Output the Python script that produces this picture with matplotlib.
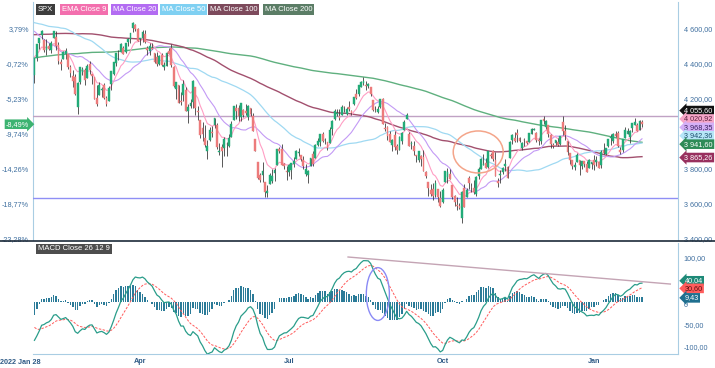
import numpy as np
import pandas as pd
import matplotlib
matplotlib.use('Agg')
import matplotlib.pyplot as plt
from matplotlib.patches import Ellipse
from matplotlib.lines import Line2D
from matplotlib.transforms import blended_transform_factory

plt.rcParams['font.family'] = ['Liberation Sans', 'DejaVu Sans']

# ── closes before the first visible candle (2021-04-16 .. 2022-01-27), only used to warm up MAs / MACD
pre_close = [
    4185.47, 4163.26, 4134.94, 4173.42, 4134.98, 4180.17, 4187.62, 4186.72, 4183.18, 4211.47, 4181.17,
    4192.66, 4164.66, 4167.59, 4201.62, 4232.60, 4188.43, 4152.10, 4063.04, 4112.50, 4173.85,
    4163.29, 4127.83, 4115.68, 4159.12, 4155.86, 4197.05, 4188.13, 4195.99, 4200.88, 4204.11,
    4202.04, 4208.12, 4192.85, 4229.89, 4226.52, 4227.26, 4219.55, 4239.18, 4247.44, 4255.15,
    4246.59, 4223.70, 4221.86, 4166.45, 4224.79, 4246.44, 4241.84, 4266.49, 4280.70, 4290.61, 4291.80, 4297.50,
    4319.94, 4352.34, 4343.54, 4358.13, 4320.82, 4369.55, 4384.63, 4369.21, 4374.30, 4360.03, 4327.16,
    4258.49, 4323.06, 4358.69, 4367.48, 4411.79, 4422.30, 4401.46, 4400.64, 4419.15, 4395.26,
    4387.16, 4423.15, 4402.66, 4429.10, 4436.52, 4432.35, 4436.75, 4447.70, 4460.83, 4468.00,
    4479.71, 4448.08, 4400.27, 4405.80, 4441.67, 4479.53, 4486.23, 4496.19, 4470.00, 4509.37, 4528.79, 4522.68,
    4524.09, 4536.95, 4535.43, 4520.03, 4514.07, 4493.28, 4458.58, 4468.73, 4443.05, 4480.70, 4473.75, 4432.99,
    4357.73, 4354.19, 4395.64, 4448.98, 4455.48, 4443.11, 4352.63, 4359.46, 4307.54,
    4357.04, 4300.46, 4345.72, 4363.55, 4399.76, 4391.34, 4361.19, 4350.65, 4363.80, 4438.26, 4471.37,
    4486.46, 4519.63, 4536.19, 4549.78, 4544.90, 4566.48, 4574.79, 4551.68, 4596.42, 4605.38,
    4613.67, 4630.65, 4660.57, 4680.06, 4697.53, 4701.70, 4685.25, 4646.71, 4649.27, 4682.85,
    4682.80, 4700.90, 4688.67, 4704.54, 4697.96, 4682.94, 4690.70, 4701.46, 4594.62, 4655.27, 4567.00,
    4513.04, 4577.10, 4538.43, 4591.67, 4686.75, 4701.21, 4667.45, 4712.02, 4668.97, 4634.09, 4709.85,
    4668.67, 4620.64, 4568.02, 4649.23, 4696.56, 4725.79, 4791.19, 4786.35, 4793.06, 4778.73, 4766.18,
    4796.56, 4793.54, 4700.58, 4696.05, 4677.03, 4670.29, 4713.07, 4726.35, 4659.03, 4662.85,
    4577.11, 4532.76, 4482.73, 4397.94, 4410.13, 4356.45, 4349.93, 4326.51,
]

# ── visible candles, 2022-01-28 .. 2023-02-01 (one row per month)
opens = [
    4336, 4432, 4519, 4567, 4535, 4482, 4505, 4480, 4548, 4553, 4507, 4413, 4430, 4456, 4456, 4384, 4332, 4325, 4155, 4298, 4355,
    4364, 4322, 4402, 4342, 4327, 4203, 4223, 4253, 4280, 4203, 4188, 4288, 4345, 4407, 4462, 4469, 4494, 4470, 4523, 4541, 4603, 4624, 4600,
    4540, 4547, 4572, 4494, 4475, 4494, 4463, 4437, 4398, 4449, 4385, 4390, 4473, 4489, 4385, 4256, 4279, 4186, 4223, 4253,
    4130, 4159, 4181, 4270, 4129, 4082, 4035, 3979, 3904, 3963, 4013, 4052, 4052, 3899, 3927, 3919, 3942, 3930, 3985, 4078, 4151,
    4150, 4096, 4137, 4134, 4096, 4148, 4102, 3974, 3839, 3764, 3764, 3728, 3665, 3716, 3733, 3775, 3821, 3913, 3913, 3826, 3786,
    3782, 3792, 3831, 3859, 3889, 3880, 3851, 3773, 3764, 3819, 3883, 3860, 3935, 3956, 3999, 3965, 3953, 3951, 4026, 4088,
    4112, 4105, 4107, 4154, 4115, 4156, 4134, 4171, 4227, 4226, 4270, 4290, 4280, 4274, 4267, 4195, 4134, 4127, 4154, 4198, 4034, 4041, 4001,
    3937, 3994, 3931, 3910, 3960, 4022, 4083, 4000, 3941, 3933, 3881, 3849, 3876, 3871, 3782, 3727, 3682, 3687, 3651, 3687, 3633,
    3610, 3727, 3753, 3772, 3706, 3645, 3595, 3590, 3520, 3690, 3638, 3747, 3697, 3689, 3657, 3762, 3799, 3825, 3834, 3809, 3881,
    3901, 3853, 3733, 3767, 3780, 3817, 3810, 3860, 3963, 3977, 4007, 3976, 3919, 3967, 3957, 3956, 4001, 4023, 4005, 3964, 3958,
    4087, 4041, 4053, 3996, 3934, 3947, 3954, 3940, 4069, 4016, 3958, 3890, 3853, 3811, 3839, 3853, 3815, 3843, 3830, 3805, 3830,
    3853, 3840, 3839, 3823, 3911, 3888, 3932, 3977, 3961, 3999, 4003, 3911, 3909, 3979, 4001, 3982, 4036, 4053, 4049, 4021, 4070,
]
highs = [
    4433, 4516, 4550, 4595, 4542, 4540, 4522, 4531, 4590, 4589, 4527, 4426, 4472, 4490, 4457, 4394, 4363, 4340, 4295, 4385, 4385,
    4375, 4401, 4416, 4343, 4328, 4277, 4299, 4268, 4292, 4218, 4272, 4358, 4413, 4465, 4481, 4522, 4501, 4521, 4546, 4576, 4637, 4627, 4604,
    4549, 4593, 4594, 4503, 4521, 4520, 4464, 4471, 4453, 4461, 4411, 4471, 4489, 4513, 4386, 4299, 4279, 4240, 4308, 4270,
    4169, 4200, 4308, 4271, 4158, 4082, 4068, 4050, 3964, 4039, 4047, 4091, 4060, 3946, 3944, 3982, 3955, 3999, 4075, 4158, 4169,
    4166, 4177, 4142, 4169, 4164, 4150, 4119, 3974, 3839, 3778, 3838, 3728, 3708, 3779, 3801, 3808, 3913, 3928, 3945, 3836, 3818,
    3830, 3832, 3870, 3910, 3919, 3880, 3873, 3829, 3796, 3863, 3902, 3940, 3975, 3999, 4013, 3975, 3954, 4040, 4079, 4140,
    4145, 4140, 4168, 4162, 4152, 4186, 4136, 4211, 4257, 4280, 4301, 4325, 4302, 4293, 4267, 4196, 4160, 4157, 4200, 4204, 4062, 4044, 4016,
    3971, 4019, 3942, 3988, 4011, 4077, 4120, 4010, 3962, 3957, 3881, 3900, 3877, 3907, 3791, 3727, 3716, 3717, 3737, 3688, 3672,
    3694, 3791, 3807, 3798, 3711, 3652, 3640, 3608, 3675, 3716, 3689, 3762, 3719, 3737, 3757, 3810, 3862, 3887, 3860, 3905, 3893,
    3911, 3895, 3750, 3796, 3813, 3859, 3819, 3959, 4001, 4009, 4029, 3984, 3955, 3979, 3962, 4004, 4033, 4034, 4012, 3976, 4080,
    4101, 4077, 4053, 4002, 3950, 3966, 3977, 3991, 4101, 4053, 3959, 3890, 3854, 3839, 3889, 3853, 3846, 3846, 3848, 3858, 3840,
    3879, 3873, 3840, 3907, 3951, 3920, 3970, 3997, 4003, 4016, 4016, 3923, 3973, 4040, 4033, 4020, 4062, 4094, 4064, 4077, 4078,
]
lows = [
    4292, 4415, 4484, 4545, 4471, 4451, 4477, 4465, 4548, 4477, 4402, 4365, 4429, 4430, 4374, 4327, 4268, 4222, 4115, 4287, 4336,
    4279, 4322, 4345, 4285, 4199, 4157, 4223, 4210, 4200, 4162, 4187, 4251, 4335, 4390, 4425, 4469, 4455, 4465, 4501, 4517, 4582, 4588, 4530,
    4507, 4528, 4517, 4450, 4450, 4486, 4408, 4387, 4393, 4390, 4368, 4390, 4455, 4385, 4268, 4201, 4175, 4168, 4188, 4129,
    4063, 4147, 4150, 4106, 4077, 3975, 3958, 3928, 3859, 3959, 3984, 4034, 3916, 3877, 3811, 3876, 3876, 3925, 3985, 4078, 4084,
    4074, 4074, 4098, 4109, 4081, 4105, 4017, 3900, 3744, 3724, 3723, 3640, 3640, 3716, 3717, 3734, 3821, 3889, 3820, 3800, 3738,
    3759, 3742, 3810, 3859, 3872, 3847, 3802, 3758, 3722, 3817, 3819, 3860, 3929, 3933, 3955, 3944, 3910, 3951, 3993, 4079,
    4104, 4080, 4107, 4128, 4107, 4129, 4106, 4165, 4201, 4219, 4266, 4278, 4253, 4262, 4219, 4131, 4124, 4121, 4147, 4057, 4017, 3965, 3954,
    3904, 3907, 3886, 3907, 3944, 4022, 4083, 3931, 3915, 3880, 3837, 3839, 3818, 3789, 3750, 3648, 3645, 3623, 3641, 3610, 3584,
    3604, 3727, 3722, 3744, 3630, 3588, 3568, 3570, 3492, 3583, 3637, 3686, 3667, 3657, 3647, 3741, 3799, 3825, 3803, 3808, 3863,
    3843, 3758, 3699, 3721, 3773, 3786, 3748, 3860, 3945, 3956, 3953, 3956, 3906, 3933, 3941, 3955, 3998, 4021, 3956, 3938, 3944,
    4058, 4027, 3985, 3919, 3922, 3935, 3933, 3938, 3994, 3966, 3879, 3828, 3801, 3796, 3839, 3765, 3798, 3814, 3781, 3805, 3801,
    3795, 3816, 3803, 3803, 3888, 3877, 3925, 3937, 3947, 3984, 3926, 3885, 3897, 3979, 3999, 3950, 4013, 4049, 4016, 4020, 4037,
]
closes = [
    4431.85, 4515.55, 4546.54, 4589.38, 4477.44, 4500.53, 4483.87, 4521.54, 4587.18, 4504.08, 4418.64, 4401.67, 4471.07, 4475.01, 4380.26, 4348.87, 4304.76, 4225.50, 4288.70, 4384.65, 4373.94,
    4306.26, 4386.54, 4363.49, 4328.87, 4201.09, 4170.70, 4277.88, 4259.52, 4204.31, 4173.11, 4262.45, 4357.86, 4411.67, 4463.12, 4461.18, 4511.61, 4456.24, 4520.16, 4543.06, 4575.52, 4631.60, 4602.45, 4530.41,
    4545.86, 4582.64, 4525.12, 4481.15, 4500.21, 4488.28, 4412.53, 4397.45, 4446.59, 4392.59, 4391.69, 4462.21, 4459.45, 4393.66, 4271.78, 4296.12, 4175.20, 4183.96, 4287.50, 4131.93,
    4155.38, 4175.48, 4300.17, 4146.87, 4123.34, 3991.24, 4001.05, 3935.18, 3930.08, 4023.89, 4008.01, 4088.85, 3923.68, 3900.79, 3901.36, 3973.75, 3941.48, 3978.73, 4057.84, 4158.24, 4132.15,
    4101.23, 4176.82, 4108.54, 4121.43, 4160.68, 4115.77, 4017.82, 3900.86, 3749.63, 3735.48, 3789.99, 3666.77, 3674.84, 3764.79, 3759.89, 3795.73, 3911.74, 3900.11, 3821.55, 3818.83, 3785.38,
    3825.33, 3831.39, 3845.08, 3902.62, 3899.38, 3854.43, 3818.80, 3801.78, 3790.38, 3863.16, 3830.85, 3936.69, 3959.90, 3998.95, 3961.63, 3966.84, 3921.05, 4023.61, 4072.43, 4130.29,
    4118.63, 4091.19, 4155.17, 4151.94, 4145.19, 4140.06, 4122.47, 4210.24, 4207.27, 4280.15, 4297.14, 4305.20, 4274.04, 4283.74, 4228.48, 4137.99, 4128.73, 4140.77, 4199.12, 4057.66, 4030.61, 3986.16, 3955.00,
    3966.85, 3924.26, 3908.19, 3979.87, 4006.18, 4067.36, 4110.41, 3932.69, 3946.01, 3901.35, 3873.33, 3899.89, 3855.93, 3789.93, 3757.99, 3693.23, 3655.04, 3647.29, 3719.04, 3640.47, 3585.62,
    3678.43, 3790.93, 3783.28, 3744.52, 3639.66, 3612.39, 3588.84, 3577.03, 3669.91, 3583.07, 3677.95, 3719.98, 3695.16, 3665.78, 3752.75, 3797.34, 3859.11, 3830.60, 3807.30, 3901.06, 3871.98,
    3856.10, 3759.69, 3719.89, 3770.55, 3806.80, 3828.11, 3748.57, 3956.37, 3992.93, 3957.25, 3991.73, 3958.79, 3946.56, 3965.34, 3949.94, 4003.58, 4027.26, 4026.12, 3963.94, 3957.63, 4080.11,
    4076.57, 4071.70, 3998.84, 3941.26, 3933.92, 3963.51, 3934.38, 3990.56, 4019.65, 3995.32, 3895.75, 3852.36, 3817.66, 3821.62, 3878.44, 3822.39, 3844.82, 3829.25, 3783.22, 3849.28, 3839.50,
    3824.14, 3852.97, 3808.10, 3895.08, 3892.09, 3919.25, 3969.61, 3983.17, 3999.09, 3990.97, 3928.86, 3898.85, 3972.61, 4019.81, 4016.95, 4016.22, 4060.43, 4070.56, 4017.77, 4076.60, 4055.60,
]

month_ticks  = [44, 106, 170, 233]
month_labels = ['Apr', 'Jul', 'Oct', 'Jan']
first_label  = '2022 Jan 28'

price_ticks = [3400, 3600, 3800, 4000, 4200, 4400, 4600]
macd_ticks  = [-100, -50, 0, 50, 100]
hidden_ticks = [4000, 50]   # covered by the value badges in the original

# values printed in the right-hand badges (SPX, EMA9, MA20, MA50, MA200, MA100)
price_badges = [4055.60, 4020.92, 3968.35, 3942.36, 3941.60, 3865.26]
macd_badges  = [40.04, 30.60, 9.43]   # MACD, signal, histogram

resistance = 4103
support    = 3634

# ── indicators ────────────────────────────────────────────────
n_pre = len(pre_close)
allc = pd.Series(pre_close + closes, dtype=float)
ema9  = allc.ewm(span=9, adjust=False).mean().values[n_pre:]
ma20  = allc.rolling(20).mean().values[n_pre:]
ma50  = allc.rolling(50).mean().values[n_pre:]
ma100 = allc.rolling(100).mean().values[n_pre:]
ma200 = allc.rolling(200).mean().values[n_pre:]
macd_full = allc.ewm(span=12, adjust=False).mean() - allc.ewm(span=26, adjust=False).mean()
sig_full = macd_full.ewm(span=9, adjust=False).mean()
macd = macd_full.values[n_pre:]
signal = sig_full.values[n_pre:]
hist = macd - signal

# ── colours ───────────────────────────────────────────────────
UP, DOWN = '#22ab78', '#ec7b7b'
C_EMA9, C_MA20, C_MA50, C_MA100, C_MA200 = '#ff9ec4', '#c39af5', '#9fd9f2', '#a2506e', '#5fb07f'
AXIS = '#a9cde3'
TXT = '#3f6f9f'
FS = 5.2

def fmt_num(v):
    if v == 0:
        return '0'
    return f'{v:,.2f}'.replace(',', ' ').replace('.', ',')

# ── figure ────────────────────────────────────────────────────
W, H = 715, 368
fig = plt.figure(figsize=(W / 100, H / 100), dpi=100)

def box(l, t, r, b):
    return [l / W, 1 - b / H, (r - l) / W, (b - t) / H]

ax = fig.add_axes(box(33, 2, 678, 240))
axm = fig.add_axes(box(33, 243, 678, 354), sharex=ax)

x = np.arange(len(closes))
o, h, l, c = (np.array(a, float) for a in (opens, highs, lows, closes))

# moving averages
ax.plot(x, ma200, color=C_MA200, lw=1.0, zorder=2)
ax.plot(x, ma100, color=C_MA100, lw=1.0, zorder=2)
ax.plot(x, ma50, color=C_MA50, lw=0.9, zorder=2)
ax.plot(x, ma20, color=C_MA20, lw=0.8, zorder=2)
ax.plot(x, ema9, color=C_EMA9, lw=0.8, zorder=2)

# candles
col = np.where(c >= o, UP, DOWN)
ax.vlines(x, l, h, color='#3d3d3d', lw=0.6, zorder=3)
ax.bar(x, np.maximum(np.abs(c - o), 2.0), bottom=np.minimum(o, c), width=0.75,
       color=col, edgecolor=col, lw=0.3, zorder=4)

# drawn lines / shapes
ax.axhline(resistance, color='#c0a2c4', lw=1.0, zorder=1)
ax.axhline(support, color='#8f8ff5', lw=1.0, zorder=1)
ax.add_patch(Ellipse((184.8, 3897), 20.8, 240, fill=False, ec='#f4a58a', lw=1.1, zorder=5))

ax.set_xlim(-0.6, 268)
ax.set_ylim(3394, 4754)
ax.yaxis.tick_right()
ax.set_yticks(price_ticks)
ax.set_yticklabels(['' if v in hidden_ticks else fmt_num(v) for v in price_ticks])
ax.tick_params(axis='y', length=0, pad=4, labelsize=FS, labelcolor=TXT)
ax.tick_params(axis='x', length=0, labelbottom=False)
for s in ('top', 'bottom', 'left'):
    ax.spines[s].set_visible(False)
ax.spines['right'].set_color(AXIS)

base = closes[0]
sec = ax.secondary_yaxis('left', functions=(lambda p: (p / base - 1) * 100,
                                             lambda q: base * (1 + q / 100)))
pct_ticks = [(p / base - 1) * 100 for p in price_ticks]
sec.set_yticks(pct_ticks)
sec.set_yticklabels([f'{q:.2f}%'.replace('.', ',') for q in pct_ticks])
sec.tick_params(length=0, pad=3, labelsize=FS, labelcolor=TXT)
sec.spines['left'].set_color(AXIS)

# stacked value badges on the right axis
def stack(vals, gap):
    pos = np.array(vals, float)
    prev = -np.inf
    for i in np.argsort(vals):
        pos[i] = max(vals[i], prev + gap)
        prev = pos[i]
    return pos

tr = blended_transform_factory(ax.transAxes, ax.transData)
badge_style = [('#111111', 'white'), ('#f7a6c8', '#5a2040'), ('#d4b0f7', '#3a2060'),
               ('#b6e6f8', '#1f4f6f'), ('#2e8b57', 'white'), ('#98305e', 'white')]
for v, p, (bg, fg) in zip(price_badges, stack(price_badges, 48), badge_style):
    ax.text(1.01, p, fmt_num(v), transform=tr, ha='left', va='center', fontsize=FS,
            color=fg, clip_on=False, zorder=10,
            bbox=dict(boxstyle='larrow,pad=0.18', fc=bg, ec='none'))

pct_now = (closes[-1] / base - 1) * 100
ax.text(-0.006, closes[-1], f'{pct_now:.2f}%'.replace('.', ','), transform=tr, ha='right',
        va='center', fontsize=FS, color='white', clip_on=False, zorder=10,
        bbox=dict(boxstyle='rarrow,pad=0.18', fc='#3cb371', ec='none'))

# ── MACD panel ────────────────────────────────────────────────
axm.bar(x, hist, width=0.6, color='#2b7b98', zorder=2)
axm.plot(x, signal, color='#ff5a5a', lw=0.7, ls=(0, (2.5, 1.5)), zorder=3)
axm.plot(x, macd, color='#2a9d8a', lw=0.9, zorder=3)
axm.plot([130.6, 264.8], [100.7, 40.3], color='#c4a4b4', lw=1.0, zorder=4)
axm.add_patch(Ellipse((143, 18), 9.6, 118, fill=False, ec='#8a8af5', lw=1.0, zorder=5))

axm.set_ylim(-116, 132)
axm.yaxis.tick_right()
axm.set_yticks(macd_ticks)
axm.set_yticklabels(['' if v in hidden_ticks else fmt_num(v) for v in macd_ticks])
for t in axm.get_yticklabels():
    if t.get_text() == '0':
        t.set_va('top')
axm.tick_params(axis='y', length=0, pad=4, labelsize=FS, labelcolor=TXT)
axm.set_xticks(month_ticks)
axm.set_xticklabels(month_labels)
axm.tick_params(axis='x', length=0, pad=3, labelsize=FS, labelcolor='#2f5b86')
for t in axm.get_xticklabels():
    t.set_fontweight('bold')
axm.spines['top'].set_visible(False)
axm.spines['left'].set_visible(False)
axm.spines['right'].set_color(AXIS)
axm.spines['bottom'].set_color(AXIS)

trm = blended_transform_factory(axm.transAxes, axm.transData)
macd_style = [('#1e8a78', 'white'), ('#ff5c5c', '#5a1010'), ('#1f6f8f', 'white')]
for v, p, (bg, fg) in zip(macd_badges, stack(macd_badges, 17), macd_style):
    axm.text(1.01, p, fmt_num(v), transform=trm, ha='left', va='center', fontsize=FS,
             color=fg, clip_on=False, zorder=10,
             bbox=dict(boxstyle='larrow,pad=0.18', fc=bg, ec='none'))

fig.text(20 / W, 1 - 362 / H, first_label, ha='center', va='center', fontsize=FS,
         color='#2f5b86', fontweight='bold')

# separator between the panels
fig.add_artist(Line2D([0, 1], [1 - 240.5 / H] * 2, color='#1d2b3a', lw=1.2))

# legend badges
legend_items = [('SPX', '#3d3d3d'), ('EMA Close 9', '#f36fae'), ('MA Close 20', '#b36cf2'),
                ('MA Close 50', '#7fd0f2'), ('MA Close 100', '#7d4a5c'), ('MA Close 200', '#5b7d66')]
legend_x = [38, 62, 113, 162, 210, 265]
for (txt, bg), lx in zip(legend_items, legend_x):
    fig.text(lx / W, 1 - 9.5 / H, txt, ha='left', va='center', fontsize=5.5, color='white',
             bbox=dict(boxstyle='square,pad=0.25', fc=bg, ec='none'))
fig.text(38 / W, 1 - 249 / H, 'MACD Close 26 12 9', ha='left', va='center', fontsize=5.5,
         color='white', bbox=dict(boxstyle='square,pad=0.25', fc='#4d4d4d', ec='none'))

fig.savefig('out.png', dpi=100)
